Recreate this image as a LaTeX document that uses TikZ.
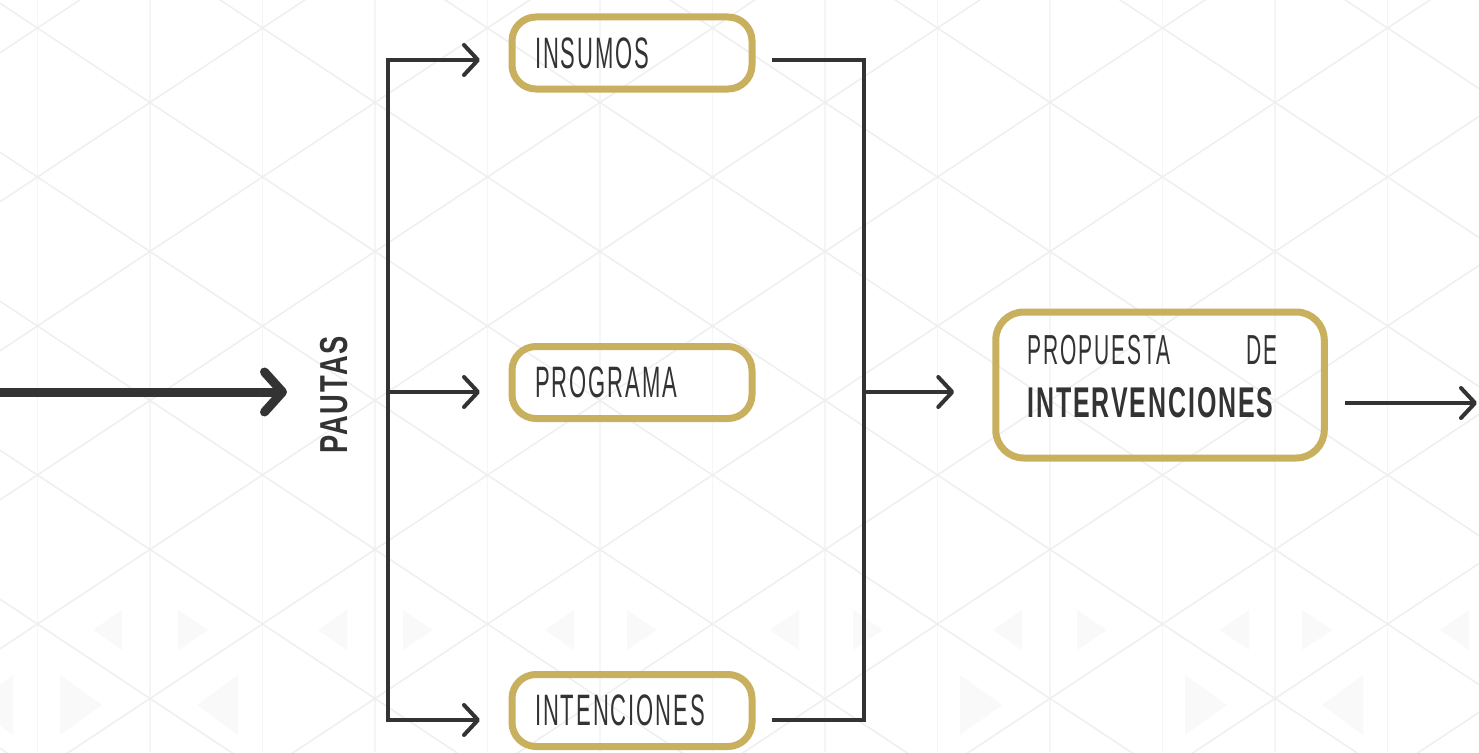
\documentclass[tikz,border=0pt]{standalone}
\usepackage{fontspec}
\usetikzlibrary{arrows.meta,calc}
\newfontfamily\condfont[FakeStretch=0.5,LetterSpace=4.5]{Liberation Sans}
\newfontfamily\condbfont[FakeStretch=0.58,LetterSpace=4.4]{Liberation Sans}
\newfontfamily\pfont[FakeStretch=0.7,LetterSpace=5]{Liberation Sans}
\definecolor{ink}{HTML}{333333}
\definecolor{gold}{HTML}{C9B05E}
\definecolor{gridc}{HTML}{EFEFEF}
\definecolor{vgridc}{HTML}{F5F5F5}
\definecolor{trifill}{HTML}{F9F9F9}
\tikzset{
  box/.style={draw=gold, line width=7pt, rounded corners=24pt,
    minimum width=240pt, minimum height=72pt, inner xsep=23pt, inner ysep=0pt,
    text width=194pt, align=left, text=ink,
    font=\condfont\fontsize{44}{50}\selectfont},
  wire/.style={draw=ink, line width=4pt},
  arr/.style={wire, -{Straight Barb[length=14pt,width=30pt,round]}},
  bigarr/.style={draw=ink, line width=9pt, -{Straight Barb[length=18pt,width=40pt,round]}},
  dgrid/.style={draw=gridc, line width=1.5pt},
  vgrid/.style={draw=vgridc, line width=1.5pt},
  tri/.style={fill=trifill, draw=none},
}
\begin{document}
\begin{tikzpicture}[x=1pt,y=-1pt]
\useasboundingbox (0,0) rectangle (1479,752);
\fill[white] (0,0) rectangle (1479,752);
% background pattern
\begin{scope}
\clip (0,0) rectangle (1479,752);
\foreach \k in {0,...,13} \draw[vgrid] ({37.5+112.5*\k},0) -- ++(0,752);
\foreach \m in {-7,...,5} \draw[dgrid] (0,{3.2+149*\m}) -- (1479,{3.2+149*\m+979.4});
\foreach \m in {0,...,11} \draw[dgrid] (0,{52.8+149*\m}) -- (1479,{52.8+149*\m-979.4});
\foreach \x in {93,318,545,770,993,1220,1440} \fill[tri] (\x,630) -- (\x+29,610) -- (\x+29,650) -- cycle;
\foreach \x in {178,403,627,853,1077,1302} \fill[tri] (\x,610) -- (\x+30,630) -- (\x,650) -- cycle;
\foreach \x in {60,960,1185} \fill[tri] (\x,675) -- (\x+42,705) -- (\x,735) -- cycle;
\foreach \x in {-28,197,1322} \fill[tri] (\x,705) -- (\x+41,675) -- (\x+41,735) -- cycle;
\end{scope}

% nodes
\node[box] (ins) at (632,53) {INSUMOS};
\node[box] (prog) at (632,382.5) {PROGRAMA};
\node[box] (int) at (632,710.5) {INTENCIONES};
\node[box, minimum width=328.5pt, minimum height=146pt, text width=265pt,
      inner xsep=31.75pt, rounded corners=28pt,
      font=\condfont\fontsize{42}{53}\selectfont] (prop) at (1160,385)
  {\makebox[250pt][s]{PROPUESTA\hfill DE}\\{\condbfont\bfseries\fontsize{43}{53}\selectfont INTERVENCIONES\rule[-17pt]{0pt}{17pt}}};
\node[font=\pfont\bfseries\fontsize{39}{40}\selectfont, text=ink, rotate=90, inner sep=0pt] (pautas) at (334,395) {PAUTAS};

% coordinates
\coordinate (src) at (0,392);
\coordinate (srcend) at (287,392);
\coordinate (sT) at (388,60);
\coordinate (sM) at (388,392);
\coordinate (sB) at (388,720);
\coordinate (rT) at (864,60);
\coordinate (rM) at (864,392);
\coordinate (rB) at (864,720);
\coordinate (sink) at (1477,403);

% connectors
\draw[bigarr] (src) -- (srcend);
\draw[arr] (sM) -- (sT) -- ($(sT -| ins.west)+(-28.5,0)$);
\draw[arr] (sM) -- (sB) -- ($(sB -| int.west)+(-28.5,0)$);
\draw[arr] (sM) -- ($(sM -| prog.west)+(-28.5,0)$);
\draw[wire] ($(rT -| ins.east)+(16.5,0)$) -- (rT) -- (rB) -- ($(rB -| int.east)+(16.5,0)$);
\draw[arr] (rM) -- ($(rM -| prop.west)+(-38,0)$);
\draw[arr] ($(sink -| prop.east)+(17.5,0)$) -- (sink);
\end{tikzpicture}
\end{document}
